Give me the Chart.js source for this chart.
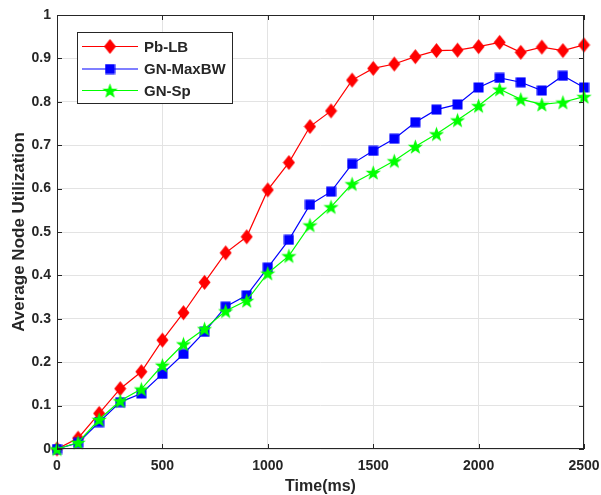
<!DOCTYPE html>
<html>
<head>
<meta charset="utf-8">
<script src="https://cdn.jsdelivr.net/npm/chart.js@4.4.1/dist/chart.umd.min.js"></script>
<style>
  body { margin: 0; background: #fff; }
</style>
</head>
<body>
<canvas id="myChart" width="601" height="495"></canvas>
<script>
// data
const timeMs = [0,100,200,300,400,500,600,700,800,900,1000,1100,1200,1300,1400,1500,1600,1700,1800,1900,2000,2100,2200,2300,2400,2500];
const pbLB    = [0,0.025,0.082,0.139,0.178,0.251,0.314,0.384,0.452,0.489,0.597,0.660,0.743,0.779,0.850,0.877,0.887,0.904,0.918,0.919,0.927,0.937,0.914,0.926,0.918,0.931];
const gnMaxBW = [0,0.014,0.062,0.108,0.128,0.173,0.219,0.270,0.328,0.354,0.418,0.482,0.563,0.593,0.657,0.687,0.715,0.753,0.782,0.794,0.833,0.855,0.845,0.826,0.860,0.833];
const gnSp    = [0,0.015,0.068,0.111,0.138,0.193,0.242,0.277,0.318,0.342,0.405,0.445,0.516,0.558,0.611,0.637,0.664,0.697,0.726,0.758,0.791,0.829,0.806,0.794,0.799,0.812];
const xTicks = [0,500,1000,1500,2000,2500];
const yTicks = [0,0.1,0.2,0.3,0.4,0.5,0.6,0.7,0.8,0.9,1];
const xTitle = 'Time(ms)';
const yTitle = 'Average Node Utilization';

const FONT = 'Arial, "Liberation Sans", sans-serif';
const AXIS_COLOR = '#262626';

// marker images (matlab style)
function makeMarker(w, h, draw) {
    const c = document.createElement('canvas');
    c.width = w; c.height = h;
    const g = c.getContext('2d');
    draw(g, w / 2, h / 2);
    return c;
}
const diamond = makeMarker(13, 17, (g, cx, cy) => {
    g.fillStyle = '#ff0000';
    g.beginPath();
    g.moveTo(cx, cy - 7.5); g.lineTo(cx + 6, cy); g.lineTo(cx, cy + 7.5); g.lineTo(cx - 6, cy);
    g.closePath();
    g.fill();
});
const square = makeMarker(11, 11, (g, cx, cy) => {
    g.fillStyle = '#0000ff';
    g.fillRect(cx - 5, cy - 5, 10, 10);
});
const star = makeMarker(17, 17, (g, cx, cy) => {
    g.fillStyle = '#00ff00';
    g.beginPath();
    for (let i = 0; i < 10; i++) {
        const r = i % 2 === 0 ? 8 : 3.3;
        const a = -Math.PI / 2 + i * Math.PI / 5;
        const px = cx + r * Math.cos(a), py = cy + r * Math.sin(a) + 0.8;
        if (i === 0) g.moveTo(px, py); else g.lineTo(px, py);
    }
    g.closePath();
    g.fill();
});

function toPoints(arr) {
    return arr.map((v, i) => ({ x: timeMs[i], y: v }));
}

// box, inward ticks, titles and legend drawn like matlab
const matlabFrame = {
    id: 'matlabFrame',
    afterDraw(chart) {
        const ctx = chart.ctx;
        const a = chart.chartArea;
        const xs = chart.scales.x, ys = chart.scales.y;
        ctx.save();
        ctx.strokeStyle = AXIS_COLOR;
        ctx.lineWidth = 1;
        ctx.strokeRect(a.left + 0.5, a.top + 0.5, a.right - a.left - 1, a.bottom - a.top - 1);
        ctx.beginPath();
        xTicks.forEach(t => {
            const px = Math.round(xs.getPixelForValue(t)) + 0.5;
            ctx.moveTo(px, a.bottom); ctx.lineTo(px, a.bottom - 5);
            ctx.moveTo(px, a.top); ctx.lineTo(px, a.top + 5);
        });
        yTicks.forEach(t => {
            const py = Math.round(ys.getPixelForValue(t)) + 0.5;
            ctx.moveTo(a.left, py); ctx.lineTo(a.left + 5, py);
            ctx.moveTo(a.right, py); ctx.lineTo(a.right - 5, py);
        });
        ctx.stroke();

        // axis titles
        ctx.fillStyle = AXIS_COLOR;
        ctx.textAlign = 'center';
        ctx.textBaseline = 'middle';
        ctx.font = 'bold 16px ' + FONT;
        ctx.fillText(xTitle, (a.left + a.right) / 2, 487);
        ctx.save();
        ctx.translate(19, (a.top + a.bottom) / 2);
        ctx.rotate(-Math.PI / 2);
        ctx.font = 'bold 17px ' + FONT;
        ctx.fillText(yTitle, 0, 0);
        ctx.restore();

        // legend
        const bx = 77, by = 32, bw = 155, bh = 71;
        ctx.fillStyle = '#fff';
        ctx.fillRect(bx, by, bw, bh);
        ctx.strokeRect(bx + 0.5, by + 0.5, bw, bh);
        const rows = [46.5, 69, 90.5];
        chart.data.datasets.forEach((ds, i) => {
            const y = rows[i];
            ctx.strokeStyle = ds.borderColor;
            ctx.lineWidth = 1.2;
            ctx.beginPath();
            ctx.moveTo(82, y); ctx.lineTo(138, y);
            ctx.stroke();
            const img = ds.pointStyle;
            ctx.drawImage(img, 110 - img.width / 2, y - img.height / 2);
            ctx.fillStyle = AXIS_COLOR;
            ctx.font = 'bold 15px ' + FONT;
            ctx.textAlign = 'left';
            ctx.fillText(ds.label, 144, y + 1);
            ctx.strokeStyle = AXIS_COLOR;
            ctx.lineWidth = 1;
        });
        ctx.restore();
    }
};

const ctx = document.querySelector('#myChart').getContext('2d');
const myChart = new Chart(ctx, {
    type: 'line',
    data: {
        datasets: [{
            label: 'Pb-LB',
            data: toPoints(pbLB),
            borderColor: '#ff0000',
            borderWidth: 1.2,
            pointStyle: diamond,
            order: 3,
            clip: false
        }, {
            label: 'GN-MaxBW',
            data: toPoints(gnMaxBW),
            borderColor: '#0000ff',
            borderWidth: 1.2,
            pointStyle: square,
            order: 2,
            clip: false
        }, {
            label: 'GN-Sp',
            data: toPoints(gnSp),
            borderColor: '#00ff00',
            borderWidth: 1.2,
            pointStyle: star,
            order: 1,
            clip: false
        }]
    },
    options: {
        responsive: false,
        animation: false,
        layout: { padding: { top: 15, right: 17, left: 0, bottom: 0 } },
        plugins: {
            legend: { display: false },
            tooltip: { enabled: false }
        },
        scales: {
            x: {
                type: 'linear',
                min: 0,
                max: 2500,
                afterBuildTicks: s => { s.ticks = xTicks.map(v => ({ value: v })); },
                afterFit: s => { s.height = 46; s.paddingLeft = 0; s.paddingRight = 0; },
                grid: { color: '#e3e3e3', drawTicks: false },
                border: { display: false },
                ticks: {
                    padding: 9,
                    color: AXIS_COLOR,
                    font: { family: FONT, size: 14, weight: 'bold' },
                    callback: v => String(v)
                }
            },
            y: {
                min: 0,
                max: 1,
                afterBuildTicks: s => { s.ticks = yTicks.map(v => ({ value: v })); },
                afterFit: s => { s.width = 57; s.paddingTop = 0; s.paddingBottom = 0; },
                grid: { color: '#e3e3e3', drawTicks: false },
                border: { display: false },
                ticks: {
                    padding: 6,
                    color: AXIS_COLOR,
                    font: { family: FONT, size: 14, weight: 'bold' },
                    callback: v => String(Math.round(v * 10) / 10)
                }
            }
        }
    },
    plugins: [matlabFrame]
});
</script>
</body>
</html>
